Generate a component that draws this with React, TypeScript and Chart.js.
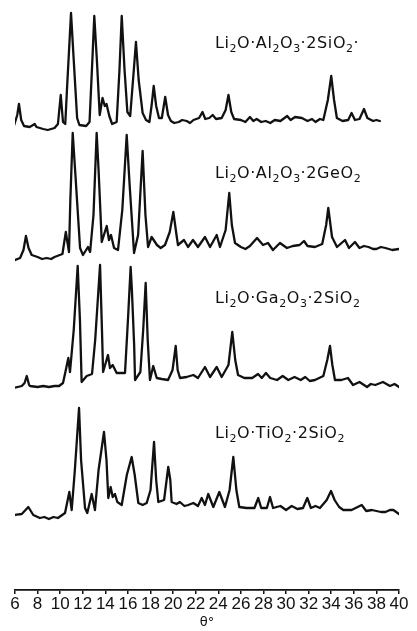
import React, { useEffect, useRef } from "react";
import { Chart, registerables } from "chart.js";
Chart.register(...registerables);

// 2θ axis
const X_MIN = 6;
const X_MAX = 40;
const X_STEP = 2;
const X_TITLE = "θ°";

// Li2O·Al2O3·2SiO2
const SI_AL_THETA = [5.4, 5.9, 6.2, 6.35, 6.55, 6.8, 7.3, 7.75, 7.9, 8.5, 8.9, 9.5, 9.8, 10.05, 10.25, 10.45, 10.6, 10.96, 11.2, 11.5, 11.7, 12.3, 12.6, 12.85, 13.02, 13.25, 13.5, 13.75, 13.95, 14.1, 14.35, 14.6, 15.0, 15.25, 15.45, 15.7, 15.95, 16.2, 16.45, 16.71, 16.95, 17.3, 17.6, 17.9, 18.1, 18.28, 18.5, 18.75, 19.0, 19.3, 19.55, 19.8, 20.1, 20.5, 20.8, 21.2, 21.5, 21.8, 22.3, 22.6, 22.85, 23.2, 23.5, 23.8, 24.3, 24.65, 24.9, 25.15, 25.4, 26.0, 26.4, 26.8, 27.1, 27.4, 27.8, 28.2, 28.6, 29.0, 29.5, 30.1, 30.4, 30.8, 31.4, 31.9, 32.3, 32.6, 33.0, 33.3, 33.7, 34.0, 34.25, 34.5, 35.0, 35.5, 35.8, 36.1, 36.5, 36.9, 37.2, 37.7, 38.0, 38.3];
const SI_AL_INT = [0, 2, 13, 24, 8, 2, 1, 4, 1, -1, -2, 0, 4, 33, 6, 4, 38, 115, 68, 10, 3, 2, 6, 68, 112, 68, 13, 30, 22, 24, 12, 4, 6, 58, 112, 58, 16, 12, 48, 86, 48, 15, 8, 6, 23, 42, 22, 10, 10, 31, 13, 7, 5, 6, 8, 7, 5, 8, 10, 16, 9, 10, 13, 9, 10, 18, 33, 16, 9, 8, 6, 11, 7, 9, 6, 7, 5, 8, 7, 12, 8, 11, 10, 7, 9, 6, 9, 8, 28, 52, 28, 10, 7, 8, 15, 8, 9, 19, 10, 7, 8, 7];

// Li2O·Al2O3·2GeO2
const GE_AL_THETA = [5.8, 6.45, 6.75, 6.97, 7.2, 7.48, 8.0, 8.4, 8.8, 9.2, 9.5, 10.2, 10.5, 10.78, 10.9, 11.11, 11.35, 11.76, 12.02, 12.46, 12.65, 12.95, 13.23, 13.4, 13.68, 14.12, 14.32, 14.5, 14.77, 15.12, 15.5, 15.89, 16.15, 16.54, 16.9, 17.3, 17.55, 17.78, 18.1, 18.57, 18.9, 19.28, 19.7, 20.02, 20.3, 20.43, 20.96, 21.32, 21.76, 22.2, 22.82, 23.27, 23.86, 24.15, 24.65, 24.97, 25.2, 25.48, 26.0, 26.4, 26.8, 27.43, 27.96, 28.4, 28.84, 29.46, 30.08, 30.6, 31.2, 31.59, 31.9, 32.56, 33.2, 33.55, 33.74, 34.07, 34.51, 35.22, 35.57, 36.1, 36.5, 36.9, 37.3, 37.7, 38.0, 38.4, 38.8, 39.4, 40.0];
const GE_AL_INT = [-3, 0, 8, 22, 10, 3, 1, -1, 0, -1, 1, 4, 26, 6, 58, 125, 83, 10, 3, 11, 6, 43, 125, 88, 16, 32, 18, 23, 10, 8, 48, 123, 73, 5, 23, 107, 43, 11, 21, 13, 10, 13, 26, 46, 23, 13, 18, 11, 18, 11, 21, 11, 23, 11, 28, 65, 33, 15, 11, 9, 12, 20, 13, 15, 8, 15, 10, 12, 13, 17, 12, 11, 14, 33, 50, 21, 11, 18, 10, 16, 10, 12, 11, 9, 9, 11, 10, 8, 9];

// Li2O·Ga2O3·2SiO2
const SI_GA_THETA = [5.85, 6.6, 6.85, 7.04, 7.25, 7.33, 8.0, 8.5, 9.0, 9.5, 9.9, 10.25, 10.5, 10.72, 10.87, 11.2, 11.55, 11.75, 11.9, 12.35, 12.82, 13.1, 13.53, 13.7, 13.8, 14.23, 14.41, 14.65, 15.0, 15.74, 16.0, 16.24, 16.35, 16.55, 16.63, 17.1, 17.35, 17.57, 17.75, 17.95, 18.24, 18.55, 19.0, 19.55, 19.95, 20.23, 20.4, 20.61, 21.2, 21.79, 22.2, 22.82, 23.27, 23.86, 24.3, 24.9, 25.24, 25.5, 25.75, 26.3, 27.0, 27.52, 27.85, 28.22, 28.6, 29.2, 29.7, 30.2, 30.75, 31.3, 31.7, 32.1, 32.56, 33.3, 33.65, 33.89, 34.1, 34.33, 34.9, 35.48, 35.93, 36.5, 37.17, 37.5, 37.9, 38.58, 39.2, 39.6, 40.0];
const SI_GA_INT = [-2, 0, 3, 10, 1, 0, -1, 0, -1, 0, 0, 3, 16, 28, 14, 56, 120, 66, 4, 10, 12, 46, 121, 56, 14, 31, 18, 21, 13, 13, 66, 119, 96, 41, 6, 14, 56, 103, 46, 6, 20, 8, 7, 6, 16, 40, 16, 8, 9, 11, 8, 19, 9, 19, 9, 21, 54, 26, 11, 8, 8, 12, 8, 13, 8, 6, 10, 6, 9, 6, 9, 5, 6, 10, 26, 40, 21, 6, 6, 8, 1, 4, -1, 2, 1, 4, 0, 2, -1];

// Li2O·TiO2·2SiO2
const SI_TI_THETA = [5.85, 6.6, 7.18, 7.62, 8.2, 8.6, 9.0, 9.4, 9.8, 10.43, 10.81, 11.02, 11.3, 11.67, 11.85, 12.2, 12.4, 12.79, 13.08, 13.4, 13.88, 14.1, 14.26, 14.47, 14.65, 14.85, 15.06, 15.45, 15.9, 16.33, 16.6, 16.92, 17.3, 17.66, 18.0, 18.31, 18.5, 18.69, 19.2, 19.57, 19.75, 19.87, 20.3, 20.6, 21.0, 21.34, 21.79, 22.2, 22.53, 22.82, 23.11, 23.56, 24.09, 24.59, 25.0, 25.33, 25.6, 25.86, 26.5, 27.2, 27.54, 27.8, 28.3, 28.58, 28.85, 29.5, 30.0, 30.5, 31.0, 31.5, 31.88, 32.2, 32.6, 33.0, 33.6, 33.98, 34.3, 34.7, 35.07, 35.8, 36.7, 37.1, 37.6, 38.0, 38.4, 38.8, 39.2, 39.5, 40.0];
const SI_TI_INT = [1, 2, 9, 1, -2, -1, -3, -1, -2, 3, 24, 6, 46, 108, 56, 8, 3, 22, 6, 46, 84, 56, 18, 29, 19, 22, 14, 11, 41, 59, 41, 13, 11, 13, 26, 74, 36, 14, 16, 49, 36, 14, 12, 14, 10, 11, 13, 10, 18, 11, 22, 9, 24, 9, 26, 59, 26, 9, 8, 8, 18, 8, 8, 19, 8, 10, 6, 10, 7, 8, 18, 8, 10, 8, 16, 25, 16, 9, 6, 6, 11, 5, 6, 5, 4, 4, 6, 6, 2];

// vertical offsets of the stacked patterns (top to bottom)
const OFFSETS = [462, 332, 204, 74];
const Y_MAX = 590;

// labels ("_" marks a subscript digit)
const LABELS = ["Li_2O·Al_2O_3·2SiO_2·", "Li_2O·Al_2O_3·2GeO_2", "Li_2O·Ga_2O_3·2SiO_2", "Li_2O·TiO_2·2SiO_2"];
const LABEL_THETA = 23.7;
const LABEL_HEIGHTS = [86, 86, 89, 84];

const SERIES = [
  [SI_AL_THETA, SI_AL_INT],
  [GE_AL_THETA, GE_AL_INT],
  [SI_GA_THETA, SI_GA_INT],
  [SI_TI_THETA, SI_TI_INT],
];

const FONT = "'DejaVu Sans', sans-serif";

const labelPlugin = {
  id: "formulaLabels",
  afterDatasetsDraw(chart: any) {
    const ctx = chart.ctx;
    const xs = chart.scales.x;
    const ys = chart.scales.y;
    ctx.save();
    ctx.fillStyle = "#111";
    ctx.textBaseline = "alphabetic";
    ctx.textAlign = "left";
    LABELS.forEach((lab, i) => {
      let x = xs.getPixelForValue(LABEL_THETA);
      const y = ys.getPixelForValue(OFFSETS[i] + LABEL_HEIGHTS[i]) + 6;
      let k = 0;
      while (k < lab.length) {
        const ch = lab[k];
        if (ch === "_") {
          const d = lab[k + 1];
          ctx.font = `11px ${FONT}`;
          ctx.fillText(d, x, y + 4);
          x += ctx.measureText(d).width + 0.5;
          k += 2;
        } else {
          ctx.font = `16px ${FONT}`;
          ctx.fillText(ch, x, y);
          x += ctx.measureText(ch).width + 0.6;
          k += 1;
        }
      }
    });
    ctx.restore();
  },
};

export default function App() {
  const ref = useRef<HTMLCanvasElement>(null);
  useEffect(() => {
    document.body.style.margin = "0";
    const canvas = ref.current!;
    const chart = new Chart(canvas, {
      type: "line",
      data: {
        datasets: SERIES.map(([th, it], i) => ({
          data: th.map((t, j) => ({ x: t, y: OFFSETS[i] + it[j] })),
          borderColor: "#111",
          borderWidth: 2.3,
          borderJoinStyle: "round",
          borderCapStyle: "round",
          pointRadius: 0,
          tension: 0,
          fill: false,
        })),
      },
      options: {
        animation: false,
        responsive: false,
        devicePixelRatio: 1,
        layout: { padding: { left: 15, right: 18, top: 0, bottom: 0 } },
        plugins: { legend: { display: false }, tooltip: { enabled: false } },
        scales: {
          x: {
            type: "linear",
            min: X_MIN,
            max: X_MAX,
            grid: { drawOnChartArea: false, drawTicks: true, tickLength: 4, color: "#111", lineWidth: 1.5 },
            border: { display: true, color: "#111", width: 1.8 },
            ticks: {
              stepSize: X_STEP,
              autoSkip: false,
              maxRotation: 0,
              minRotation: 0,
              padding: 2,
              color: "#111",
              font: { family: "'Liberation Sans', sans-serif", size: 17, lineHeight: 1 },
            },
            title: {
              display: true,
              text: X_TITLE,
              color: "#111",
              padding: { top: 1, bottom: 2 },
              font: { family: FONT, size: 13, lineHeight: 1 },
            },
          },
          y: { display: false, min: 0, max: Y_MAX },
        },
      },
      plugins: [labelPlugin],
    });
    return () => chart.destroy();
  }, []);
  return (
    <canvas
      ref={ref}
      width={417}
      height={631}
      style={{ position: "fixed", left: 0, top: 0, width: 417, height: 631, background: "#fff" }}
    />
  );
}
